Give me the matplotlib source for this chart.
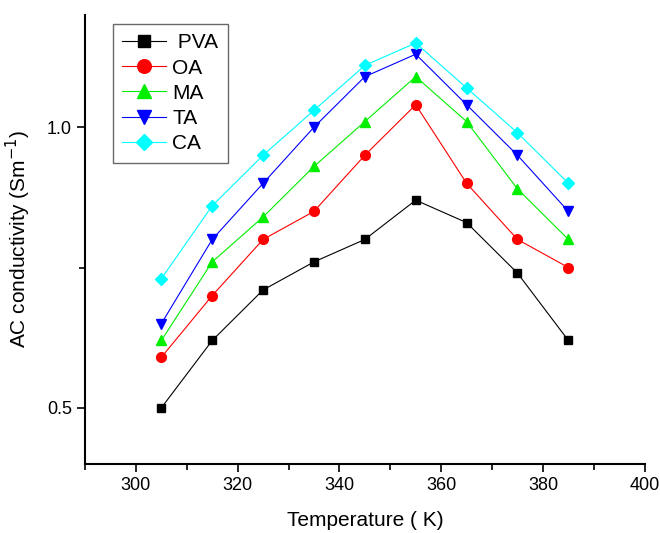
import numpy as np
import matplotlib.pyplot as plt
from matplotlib.ticker import MultipleLocator

plt.rcParams['font.family'] = ['Liberation Sans', 'DejaVu Sans']

temp = [305, 315, 325, 335, 345, 355, 365, 375, 385]
pva = [0.50, 0.62, 0.71, 0.76, 0.80, 0.87, 0.83, 0.74, 0.62]
oa = [0.59, 0.70, 0.80, 0.85, 0.95, 1.04, 0.90, 0.80, 0.75]
ma = [0.62, 0.76, 0.84, 0.93, 1.01, 1.09, 1.01, 0.89, 0.80]
ta = [0.65, 0.80, 0.90, 1.00, 1.09, 1.13, 1.04, 0.95, 0.85]
ca = [0.73, 0.86, 0.95, 1.03, 1.11, 1.15, 1.07, 0.99, 0.90]

fig = plt.figure(figsize=(6.6, 5.33), dpi=100)
ax = fig.add_axes([0.1288, 0.1295, 0.848, 0.8425])

ax.plot(temp, pva, color='black', marker='s', ms=6, lw=0.8, label=' PVA')
ax.plot(temp, oa, color='red', marker='o', ms=7, lw=0.8, label='OA')
ax.plot(temp, ma, color='#00ee00', marker='^', ms=7.5, lw=0.8, label='MA')
ax.plot(temp, ta, color='blue', marker='v', ms=7.5, lw=0.8, label='TA')
ax.plot(temp, ca, color='cyan', marker='D', ms=6, lw=0.8, label='CA')

ax.set_xlim(290, 400)
ax.set_ylim(0.4, 1.2)
ax.xaxis.set_major_locator(MultipleLocator(20))
ax.xaxis.set_minor_locator(MultipleLocator(10))
ax.yaxis.set_major_locator(MultipleLocator(0.5))
ax.yaxis.set_minor_locator(MultipleLocator(0.25))
ax.yaxis.set_major_formatter(plt.FormatStrFormatter('%.1f'))

ax.spines['top'].set_visible(False)
ax.spines['right'].set_visible(False)
ax.spines['left'].set_linewidth(1.5)
ax.spines['bottom'].set_linewidth(1.5)
ax.tick_params(which='major', direction='out', length=6, width=1.2, labelsize=13)
ax.tick_params(which='minor', direction='out', length=4, width=1.2)

ax.set_xlabel('Temperature ( K)', fontsize=15, labelpad=12)
ax.set_ylabel('AC conductivity (Sm$^{-1}$)', fontsize=15, labelpad=10)

leg = ax.legend(loc='upper left', bbox_to_anchor=(0.05, 0.98), borderaxespad=0,
                fontsize=15, markerscale=1.4, handlelength=2.1, handletextpad=0.3,
                labelspacing=0.3, frameon=True, fancybox=False,
                edgecolor='#444444', borderpad=0.45)
leg.get_frame().set_linewidth(1.0)

plt.savefig('out.png', dpi=100)
